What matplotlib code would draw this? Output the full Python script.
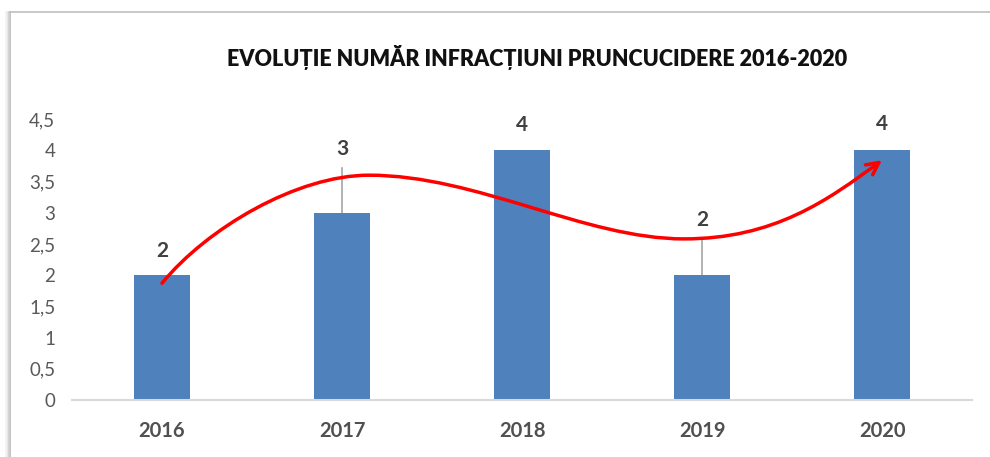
import matplotlib.pyplot as plt
from matplotlib.lines import Line2D
from matplotlib.patches import FancyArrowPatch
from matplotlib.path import Path

# data
years = ["2016", "2017", "2018", "2019", "2020"]
counts = [2, 3, 4, 2, 4]
title = "EVOLUȚIE NUMĂR INFRACȚIUNI PRUNCUCIDERE 2016-2020"
yticks = [0, 0.5, 1, 1.5, 2, 2.5, 3, 3.5, 4, 4.5]
ytick_labels = ["0", "0,5", "1", "1,5", "2", "2,5", "3", "3,5", "4", "4,5"]

# hand-drawn trend arrow (category index, value) as cubic bezier anchors
trend_pts = [(0, 1.87), (0.25, 2.75), (0.75, 3.6), (1.15, 3.6),
             (1.75, 3.6), (2.35, 2.58), (2.9, 2.58),
             (3.4, 2.58), (3.7, 3.2), (4.0, 3.84)]

plt.rcParams["font.family"] = ["Lato", "DejaVu Sans"]

fig = plt.figure(figsize=(9.9, 4.57), dpi=100)
ax = fig.add_axes([72 / 990, 57 / 457, 900 / 990, 281 / 457])

x = list(range(len(years)))
ax.bar(x, counts, width=0.31, color="#4F81BD", zorder=2)

ax.set_xlim(-0.5, 4.5)
ax.set_ylim(0, 4.5)
ax.set_yticks(yticks)
ax.set_yticklabels(ytick_labels)
ax.set_xticks(x)
ax.set_xticklabels(years, fontweight="bold")
ax.tick_params(axis="y", length=0, pad=12, labelsize=13.5, labelcolor="#595959")
ax.tick_params(axis="x", length=0, pad=15, labelsize=14.5, labelcolor="#505050")
for s in ["top", "right", "left"]:
    ax.spines[s].set_visible(False)
ax.spines["bottom"].set_color("#D9D9D9")
ax.spines["bottom"].set_linewidth(1.5)

# data labels, two of them pushed up with leader lines
label_lift = [0.38, 1.02, 0.4, 0.88, 0.42]
for i, v in enumerate(counts):
    ly = v + label_lift[i]
    if label_lift[i] > 0.6:
        ax.plot([i, i], [v, ly - 0.31], color="#A6A6A6", lw=1.2, zorder=1)
    ax.text(i, ly, str(v), ha="center", va="center", fontsize=15,
            fontweight="bold", color="#404040")

codes = [Path.MOVETO] + [Path.CURVE4] * (len(trend_pts) - 1)
arrow = FancyArrowPatch(path=Path(trend_pts, codes), arrowstyle="->",
                        mutation_scale=22, color="#FF0000", lw=2.5,
                        shrinkA=0, shrinkB=0, zorder=4)
ax.add_patch(arrow)

fig.text(537 / 990, 1 - 57 / 457, title, ha="center", va="center",
         fontsize=15.5, fontweight="heavy", color="#111111")

# frame with a soft shadow on the left
for off, c in [(0.0, "#BFBFBF"), (-1.5, "#D0D0D0"), (-3, "#E4E4E4"), (-4.5, "#F2F2F2")]:
    fig.add_artist(Line2D([(10 + off) / 990] * 2, [0, 1 - 12 / 457], color=c, lw=1.3))
fig.add_artist(Line2D([10 / 990, 1], [1 - 12 / 457] * 2, color="#BFBFBF", lw=1.2))

fig.savefig("out.png", dpi=100)
